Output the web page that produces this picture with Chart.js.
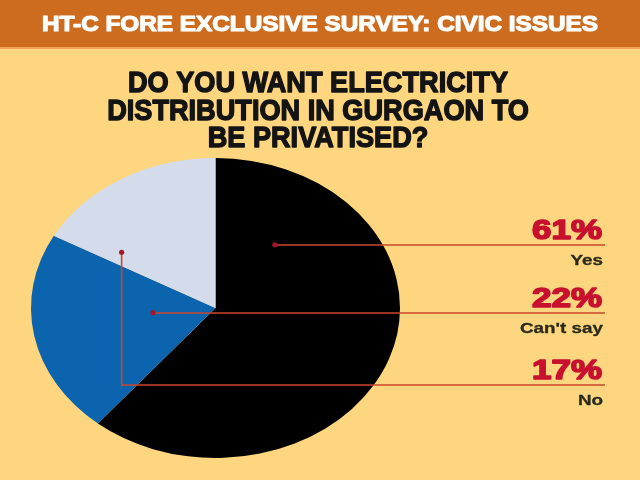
<!DOCTYPE html>
<html>
<head>
<meta charset="utf-8">
<script src="https://cdn.jsdelivr.net/npm/chart.js@4.4.1/dist/chart.umd.min.js"></script>
<style>
  html, body { margin: 0; padding: 0; background: #fdd67f; }
  #wrap { width: 640px; height: 480px; }
</style>
</head>
<body>
<div id="wrap"><canvas id="myChart" width="640" height="480"></canvas></div>
<script>
const header = 'HT-C FORE EXCLUSIVE SURVEY: CIVIC ISSUES';
const titleLines = ['DO YOU WANT ELECTRICITY', 'DISTRIBUTION IN GURGAON TO', 'BE PRIVATISED?'];
const categories = ['Yes', "Can't say", 'No'];
const shares = [61, 22, 17];

const sliceColors = ['#000000', '#0b64ad', '#d4dcec'];
const RED = '#c8112f';
const LINE = '#c9472e';
const FONT = '"Liberation Sans", Arial, sans-serif';
const STRETCH = 1.23; // the pie in the print is squashed into an ellipse

// where each leader starts inside its slice (share of sweep, share of radius) and the rule it ends on
const anchors = [{t: 0.17, r: 0.53}, {t: 0.57, r: 0.34}, {t: 0.12, r: 0.63}];
const ruleY = [245, 313, 385];
const ruleEnd = 605;

// print type is heavier than Liberation bold, so fatten it with a stroke of the same colour
function squeezeText(ctx, text, x, y, sx, align, heavy) {
  ctx.save();
  ctx.translate(x, y);
  ctx.scale(sx, 1);
  ctx.textAlign = align;
  ctx.fillText(text, 0, 0);
  if (heavy) {
    ctx.strokeStyle = ctx.fillStyle;
    ctx.lineWidth = heavy;
    ctx.lineJoin = 'round';
    ctx.strokeText(text, 0, 0);
  }
  ctx.restore();
}

const backdrop = {
  id: 'backdrop',
  beforeDraw(chart) {
    const ctx = chart.ctx;
    ctx.save();
    ctx.fillStyle = '#fdd67f';
    ctx.fillRect(0, 0, chart.width, chart.height);
    ctx.fillStyle = '#cd6b1e';
    ctx.fillRect(0, 0, chart.width, 47);
    ctx.fillStyle = '#f3a45a';
    ctx.fillRect(0, 47, chart.width, 2);

    ctx.textBaseline = 'alphabetic';
    ctx.fillStyle = '#ffffff';
    ctx.font = 'bold 22px ' + FONT;
    let sx = 556 / ctx.measureText(header).width;
    squeezeText(ctx, header, 320, 31, sx, 'center', 1.2);

    ctx.fillStyle = '#141414';
    ctx.font = 'bold 29px ' + FONT;
    sx = 380 / ctx.measureText(titleLines[0]).width;
    titleLines.forEach((t, i) => squeezeText(ctx, t, 318, 92 + i * 27.5, sx, 'center', 1.4));
    ctx.restore();
  }
};

const ellipse = {
  id: 'ellipse',
  beforeDatasetsDraw(chart) {
    const arc = chart.getDatasetMeta(0).data[0];
    const ctx = chart.ctx;
    ctx.save();
    ctx.translate(arc.x, 0);
    ctx.scale(STRETCH, 1);
    ctx.translate(-arc.x, 0);
  },
  afterDatasetsDraw(chart) {
    chart.ctx.restore();
  }
};

const leaders = {
  id: 'leaders',
  afterDraw(chart) {
    const ctx = chart.ctx;
    const arcs = chart.getDatasetMeta(0).data;
    ctx.save();
    ctx.textBaseline = 'alphabetic';
    ctx.font = 'bold 28px ' + FONT;
    const pctScale = 70 / ctx.measureText('61%').width;
    ctx.font = 'bold 15px ' + FONT;
    const lblScale = 83 / ctx.measureText("Can't say").width;

    arcs.forEach((arc, i) => {
      const p = arc.getProps(['x', 'y', 'startAngle', 'endAngle', 'outerRadius'], true);
      const a = p.startAngle + anchors[i].t * (p.endAngle - p.startAngle);
      const px = p.x + Math.cos(a) * p.outerRadius * anchors[i].r * STRETCH;
      const py = p.y + Math.sin(a) * p.outerRadius * anchors[i].r;

      ctx.strokeStyle = LINE;
      ctx.lineWidth = 1.6;
      ctx.beginPath();
      ctx.moveTo(px, py);
      ctx.lineTo(px, ruleY[i]);
      ctx.lineTo(ruleEnd, ruleY[i]);
      ctx.stroke();
      ctx.fillStyle = '#a3162c';
      ctx.beginPath();
      ctx.arc(px, py, 2.6, 0, Math.PI * 2);
      ctx.fill();

      ctx.fillStyle = RED;
      ctx.font = 'bold 28px ' + FONT;
      squeezeText(ctx, shares[i] + '%', 602, ruleY[i] - 6, pctScale, 'right', 1.6);
      ctx.fillStyle = '#2b2a1c';
      ctx.font = 'bold 15px ' + FONT;
      squeezeText(ctx, categories[i], 603, ruleY[i] + 20, lblScale, 'right', 0.3);
    });
    ctx.restore();
  }
};

const chart = new Chart(document.getElementById('myChart'), {
  type: 'pie',
  data: {
    labels: categories,
    datasets: [{
      data: shares,
      backgroundColor: sliceColors,
      borderWidth: 0
    }]
  },
  options: {
    responsive: false,
    animation: false,
    events: [],
    layout: { padding: { top: 158, bottom: 22, left: 65, right: 274 } },
    plugins: {
      legend: { display: false },
      tooltip: { enabled: false }
    }
  },
  plugins: [backdrop, ellipse, leaders]
});
</script>
</body>
</html>
